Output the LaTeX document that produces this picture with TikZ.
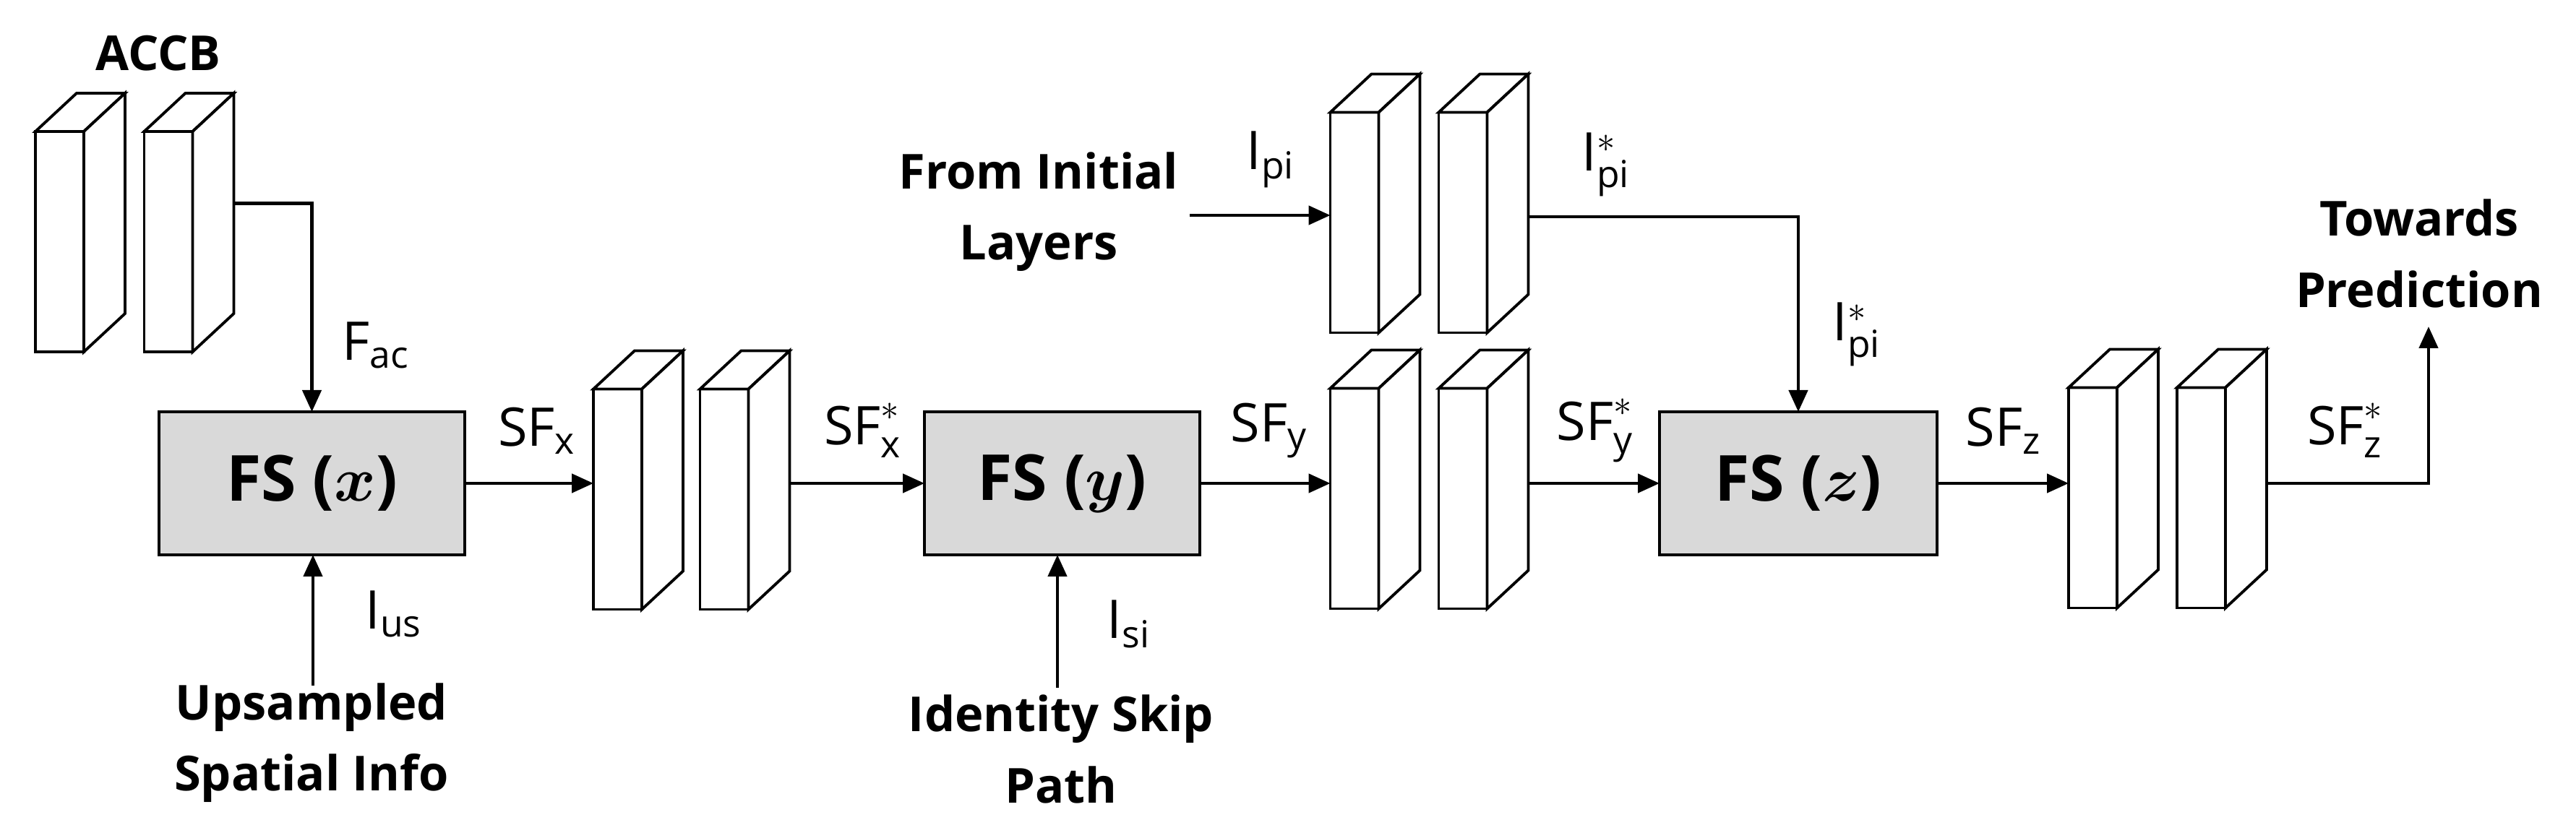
\documentclass[tikz,border=0pt]{standalone}
\usepackage{amsmath}
\usepackage{bm}
\usepackage{fontspec}
\setmainfont{Open Sans}
\usetikzlibrary{calc,arrows.meta}
\newcommand{\mkblock}[3]{%
  \node[face] (#1) at (#2,#3) {};
  \draw[edge,fill=white,line join=miter] (#1.north west) -- ++(0.57,0.53) -- ++(0.67,0) -- (#1.north east) -- cycle;
  \draw[edge,fill=white,line join=miter] (#1.north east) -- ++(0.57,0.53) -- ++(0,-3.05) -- (#1.south east) -- cycle;
  \coordinate (#1b) at ($(#1.east)+(0.57,0.53)$);
}
\begin{document}
\begin{tikzpicture}[
  edge/.style={draw=black,line width=1.1pt},
  face/.style={edge,fill=white,minimum width=0.67cm,minimum height=3.05cm,inner sep=0pt,outer sep=0pt},
  fsbox/.style={draw=black,line width=1.3pt,fill=black!15,minimum height=1.98cm,inner sep=0pt,outer sep=0pt,font=\fontsize{25}{30}\selectfont\bfseries},
  conn/.style={line width=1.3pt,-{Triangle[length=0.3cm,width=0.26cm]}},
  plain/.style={line width=1.3pt},
  lbl/.style={font=\fontsize{19}{28}\selectfont\bfseries,align=center,inner sep=0pt},
  mlbl/.style={font=\fontsize{21}{25}\selectfont,inner sep=0pt}
]
\useasboundingbox (0,0) rectangle (35.64,-11.53);
% blocks
\mkblock{A1}{0.825}{-3.345}
\mkblock{A2}{2.33}{-3.345}
\mkblock{M1}{8.545}{-6.91}
\mkblock{M2}{10.02}{-6.91}
\mkblock{N1}{18.74}{-6.90}
\mkblock{N2}{20.24}{-6.90}
\mkblock{T1}{18.74}{-3.08}
\mkblock{T2}{20.24}{-3.08}
\mkblock{Z1}{28.955}{-6.89}
\mkblock{Z2}{30.455}{-6.89}
% FS boxes
\node[fsbox,minimum width=4.23cm] (FSx) at (4.315,-6.69) {FS ($\bm{x}$)};
\node[fsbox,minimum width=3.81cm] (FSy) at (14.695,-6.69) {FS ($\bm{y}$)};
\node[fsbox,minimum width=3.84cm] (FSz) at (24.88,-6.69) {FS ($\bm{z}$)};
% text
\node[lbl] (accb) at (2.19,-0.74) {ACCB};
\node[lbl] (ups) at (4.31,-10.28) {Upsampled\\Spatial Info};
\node[lbl] (ids) at (14.68,-10.37) {Identity Skip\\Path};
\node[lbl] (fil) at (14.37,-2.93) {From Initial\\Layers};
\node[lbl] (tow) at (33.47,-3.51) {Towards\\Prediction};
\coordinate (ipiS) at (16.46,-2.98);
\coordinate (usS) at (4.33,-9.49);
\coordinate (siS) at (14.63,-9.52);
\coordinate (outE) at (33.6,-4.52);
% connectors
\draw[conn] (A2b) -| (FSx.north);
\draw[conn] (FSx.east) -- (FSx.east -| M1.west);
\draw[conn] (M2b |- FSx.east) -- (FSy.west);
\draw[conn] (FSy.east) -- (FSy.east -| N1.west);
\draw[conn] (N2b |- FSy.east) -- (FSz.west);
\draw[conn] (FSz.east) -- (FSz.east -| Z1.west);
\draw[conn] (usS) -- (FSx.south -| usS);
\draw[conn] (siS) -- (FSy.south -| siS);
\draw[conn] (ipiS) -- (ipiS -| T1.west);
\draw[conn] ($(T2b)+(0,-0.45)$) -| (FSz.north);
\draw[conn] (Z2b |- FSz.east) -| (outE);
% math labels
\node[mlbl] at (5.2,-4.78) {$\mathrm{F}_{\mathrm{ac}}$};
\node[mlbl] at (5.45,-8.5) {$\mathrm{I}_{\mathrm{us}}$};
\node[mlbl] at (15.62,-8.64) {$\mathrm{I}_{\mathrm{si}}$};
\node[mlbl] at (7.43,-5.96) {$\mathrm{SF}_{\mathrm{x}}$};
\node[mlbl] at (11.94,-5.96) {$\mathrm{SF}_{\mathrm{x}}^{*}$};
\node[mlbl] at (17.56,-5.96) {$\mathrm{SF}_{\mathrm{y}}$};
\node[mlbl] at (22.07,-5.96) {$\mathrm{SF}_{\mathrm{y}}^{*}$};
\node[mlbl] at (27.72,-5.96) {$\mathrm{SF}_{\mathrm{z}}$};
\node[mlbl] at (32.45,-5.96) {$\mathrm{SF}_{\mathrm{z}}^{*}$};
\node[mlbl] at (17.58,-2.21) {$\mathrm{I}_{\mathrm{pi}}$};
\node[mlbl] at (22.22,-2.28) {$\mathrm{I}_{\mathrm{pi}}^{*}$};
\node[mlbl] at (25.69,-4.63) {$\mathrm{I}_{\mathrm{pi}}^{*}$};
\end{tikzpicture}
\end{document}
